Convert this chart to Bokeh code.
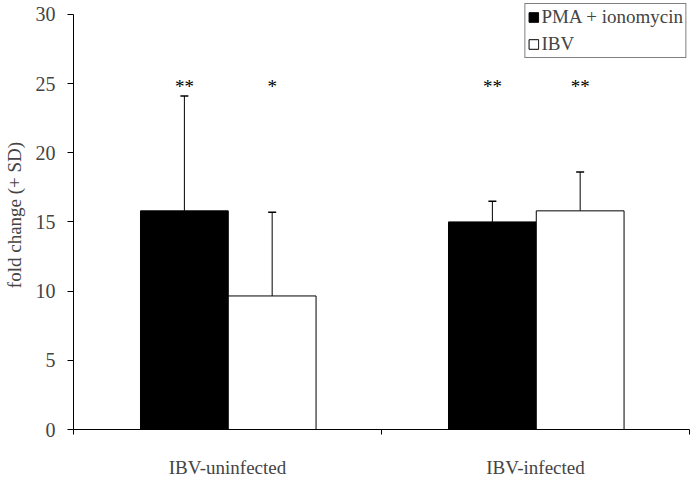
from bokeh.plotting import figure
from bokeh.models import (ColumnDataSource, FixedTicker, Whisker, TeeHead,
                          Legend, LegendItem, Range1d)
from bokeh.core.properties import value
from bokeh.embed import file_html
from bokeh.resources import INLINE
import numpy as np

# ---- data ----
categories = ["IBV-uninfected", "IBV-infected"]
series_names = ["PMA + ionomycin", "IBV"]
pma_values = [15.8, 15.0]
pma_sd = [8.3, 1.5]
ibv_values = [9.65, 15.8]
ibv_sd = [6.05, 2.8]
pma_stars = ["**", "**"]
ibv_stars = ["*", "**"]
star_level = [24.75, 24.75]
y_ticks = [0, 5, 10, 15, 20, 25, 30]
y_axis_max = 30

FONT = "Liberation Serif"

idx = np.arange(len(categories))
bar_w = 0.285
pma_x = idx + 0.36
ibv_x = idx + 0.645

pma_src = ColumnDataSource(dict(
    x=pma_x, top=pma_values,
    lower=pma_values, upper=np.array(pma_values) + np.array(pma_sd),
    stars=pma_stars, sy=star_level))
ibv_src = ColumnDataSource(dict(
    x=ibv_x, top=ibv_values,
    lower=ibv_values, upper=np.array(ibv_values) + np.array(ibv_sd),
    stars=ibv_stars, sy=star_level))

# frame extends a little above 30 so the legend can sit at the very top;
# the axis line itself is bounded to 0..30
p = figure(width=692, height=480, output_backend="svg", toolbar_location=None,
           x_range=Range1d(0, len(categories)), y_range=Range1d(0, 31.0),
           min_border_left=71, min_border_right=3, min_border_top=0,
           min_border_bottom=50)
p.outline_line_color = None
p.grid.visible = False
p.background_fill_color = "white"
p.border_fill_color = "white"

r_pma = p.vbar(x="x", top="top", width=bar_w, bottom=0, source=pma_src,
               fill_color="black", line_color="black", line_width=1)
r_ibv = p.vbar(x="x", top="top", width=bar_w, bottom=0, source=ibv_src,
               fill_color="white", line_color="black", line_width=1)

for src in (pma_src, ibv_src):
    w = Whisker(base="x", lower="lower", upper="upper", source=src,
                dimension="height", line_color="black", line_width=1,
                lower_head=None,
                upper_head=TeeHead(size=8, line_color="black", line_width=1.5))
    p.add_layout(w)
    p.text(x="x", y="sy", text="stars", source=src, text_align="center",
           text_baseline="alphabetic", text_font=value(FONT),
           text_font_size="19px", text_color="black")

# y axis
p.yaxis.ticker = FixedTicker(ticks=y_ticks)
p.yaxis.bounds = (0, y_axis_max)
p.yaxis.axis_label = "fold change (+ SD)"
p.yaxis.axis_label_text_font = FONT
p.yaxis.axis_label_text_font_size = "19px"
p.yaxis.axis_label_text_font_style = "normal"
p.yaxis.axis_label_standoff = 8
p.yaxis.major_label_text_font = FONT
p.yaxis.major_label_text_font_size = "20px"
p.yaxis.major_label_standoff = 12
p.yaxis.major_tick_out = 6
p.yaxis.major_tick_in = 0
p.yaxis.minor_tick_out = 0
p.yaxis.minor_tick_in = 0
p.yaxis.axis_line_color = "black"
p.yaxis.major_tick_line_color = "black"

# x axis: labels centred in categories, ticks at boundaries
p.xaxis.ticker = FixedTicker(ticks=list(idx + 0.5),
                             minor_ticks=list(range(len(categories) + 1)))
p.xaxis.major_label_overrides = {float(i + 0.5): c for i, c in zip(idx, categories)}
p.xaxis.major_label_text_font = FONT
p.xaxis.major_label_text_font_size = "19px"
p.xaxis.major_label_standoff = 22
p.xaxis.major_tick_out = 0
p.xaxis.major_tick_in = 0
p.xaxis.minor_tick_out = 5
p.xaxis.minor_tick_in = 0
p.xaxis.minor_tick_line_color = "black"
p.xaxis.axis_line_color = "black"

legend = Legend(items=[LegendItem(label=series_names[0], renderers=[r_pma]),
                       LegendItem(label=series_names[1], renderers=[r_ibv])],
                location="top_right", margin=3, padding=2, spacing=5,
                glyph_width=12, glyph_height=12, label_standoff=2,
                label_height=21,
                label_text_font=FONT, label_text_font_size="19px",
                border_line_color="black", border_line_width=1,
                background_fill_color="white", background_fill_alpha=1)
p.add_layout(legend, "center")

open("out.html", "w").write(file_html(p, INLINE))
